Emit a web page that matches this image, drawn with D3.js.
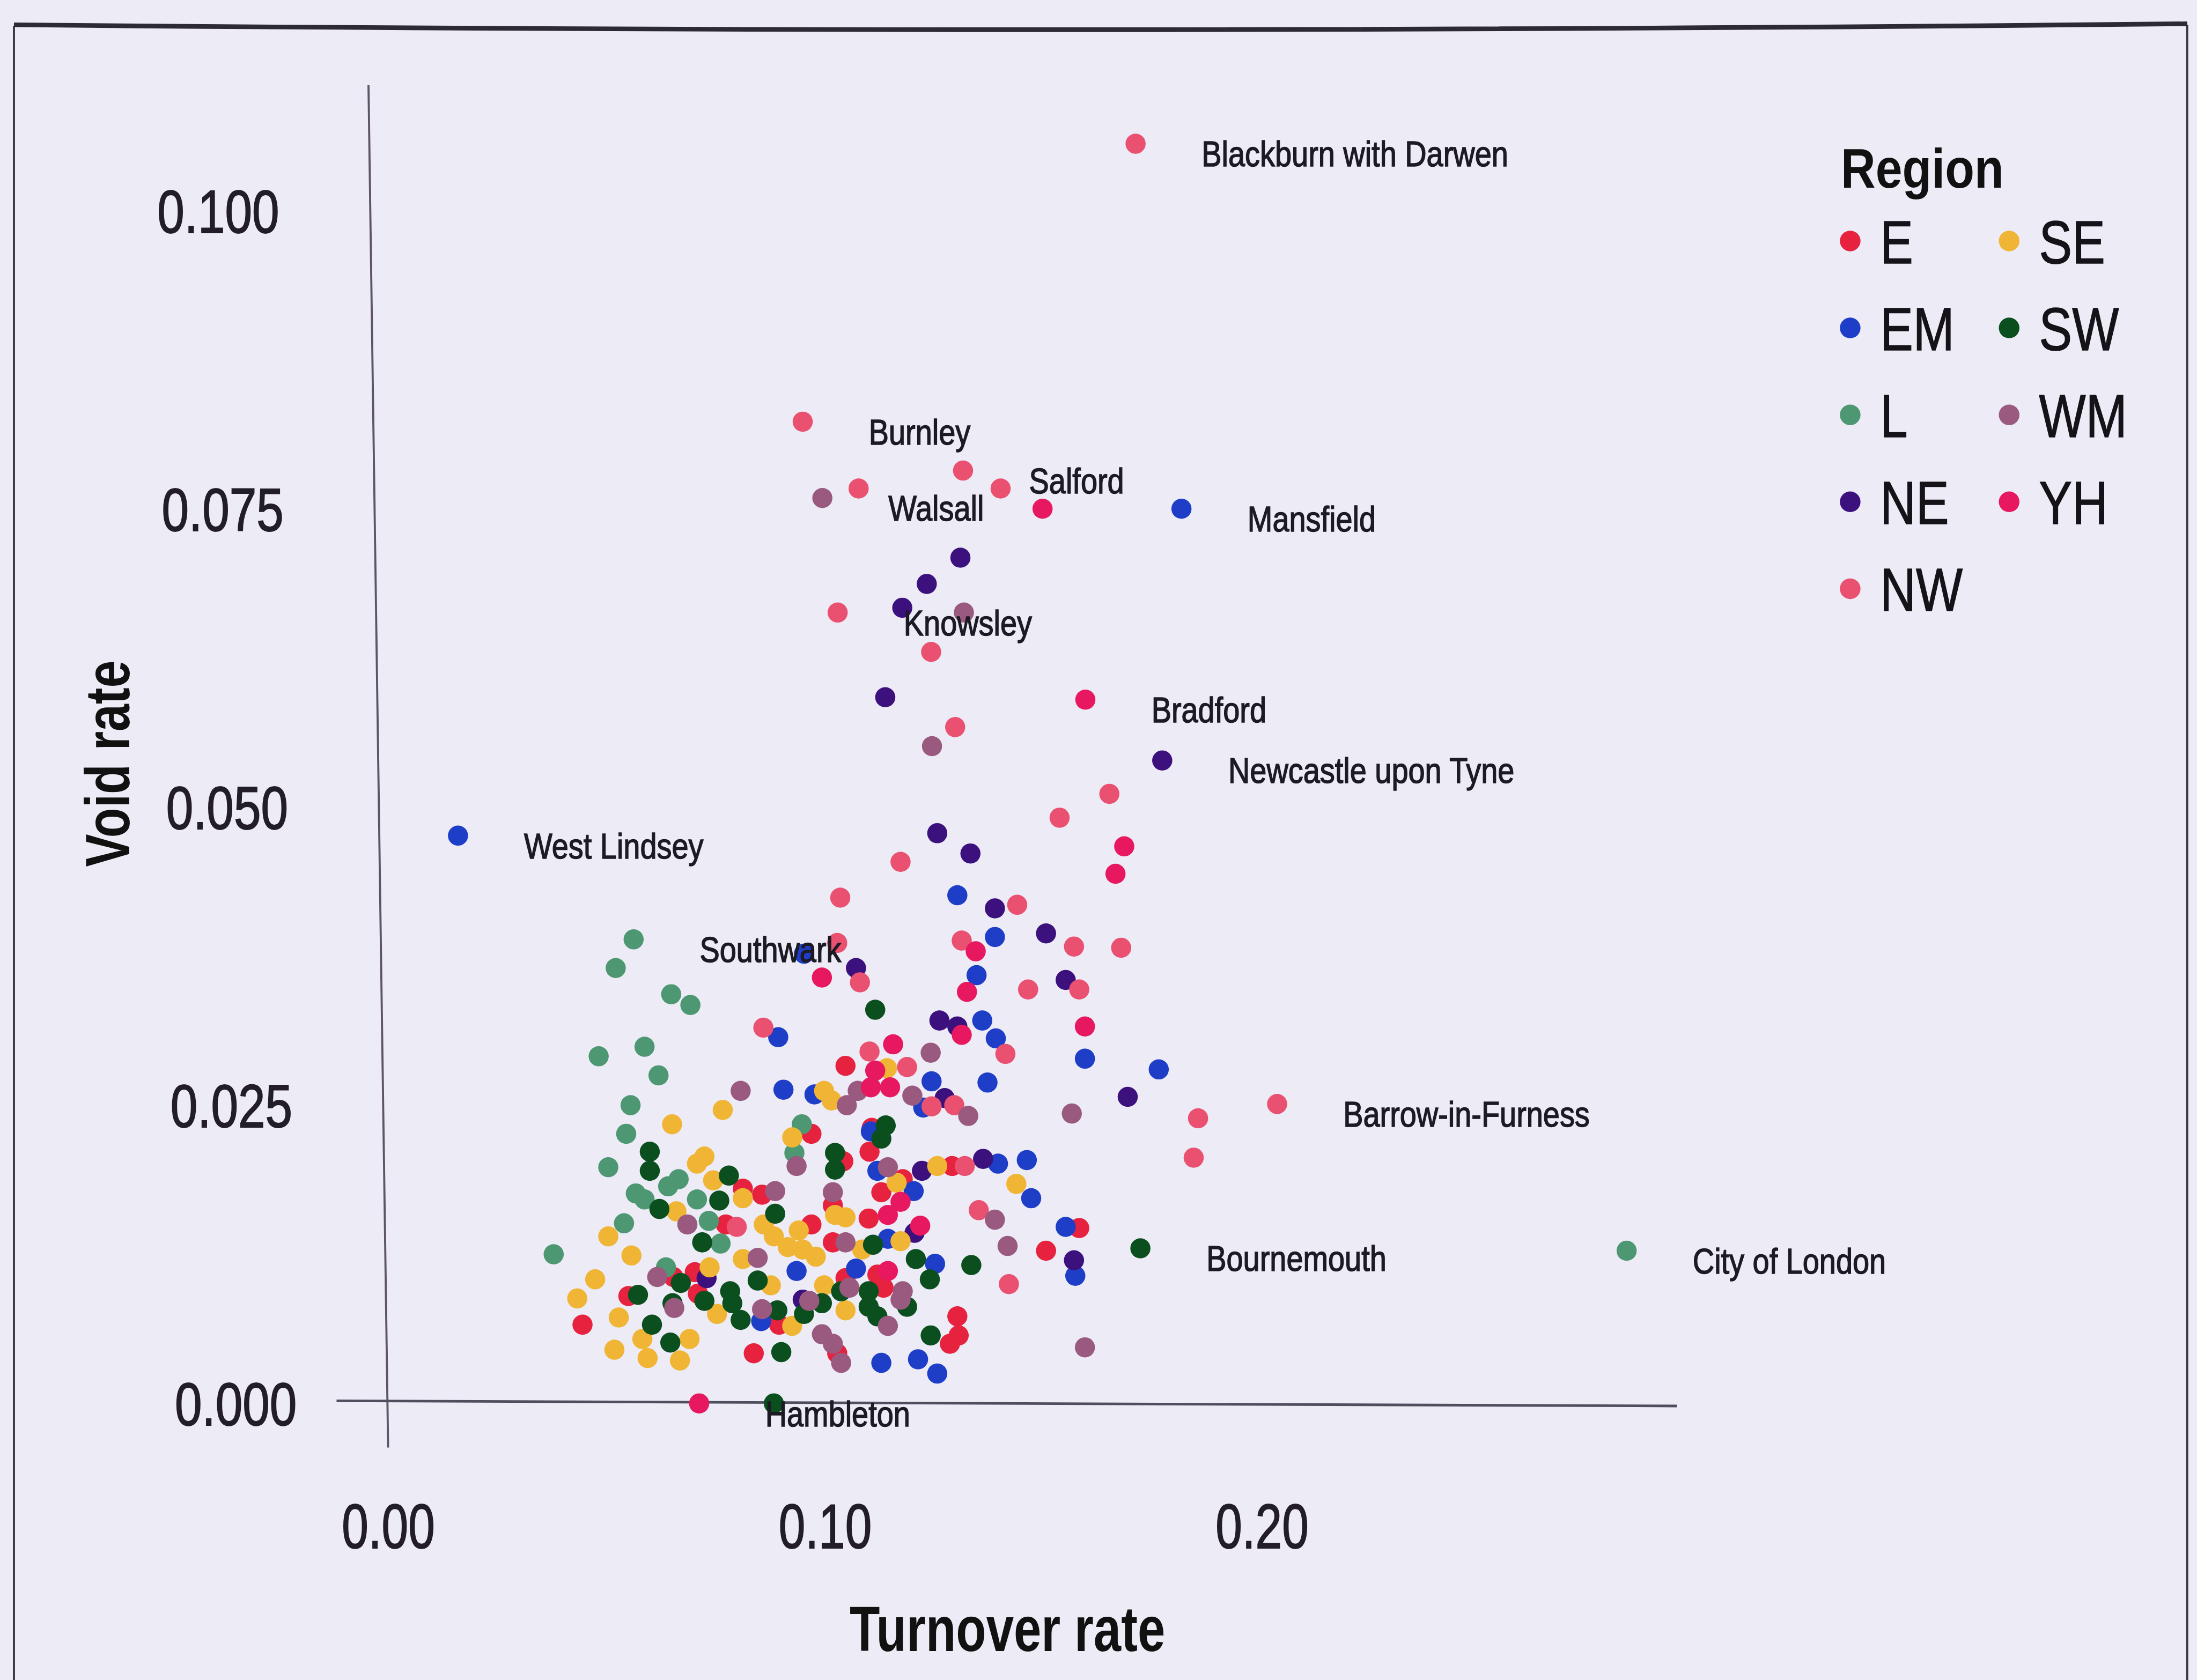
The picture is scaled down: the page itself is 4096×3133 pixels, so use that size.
<!DOCTYPE html>
<html><head><meta charset="utf-8">
<script src="https://cdn.jsdelivr.net/npm/d3@7"></script>
<style>html,body{margin:0;padding:0;background:#ecebf6;overflow:hidden}</style>
</head><body><div id="chart"></div>
<script>
// ---------- DATA ----------
const regions = ["E","EM","L","NE","NW","SE","SW","WM","YH"];
const regionColors = ["#e6223f","#1e3ec8","#4d9873","#3c117e","#ea5070","#f0b535","#0c4f1f","#9a5a80","#e7185f"];

// [turnover rate, void rate]
const E = [[0.1047,0.0283],[0.0969,0.0226],[0.1107,0.0231],[0.1102,0.0211],[0.1042,0.0203],[0.0812,0.0180],[0.0856,0.0175],[0.1018,0.0166],[0.0969,0.0150],[0.0773,0.0150],[0.1018,0.0135],[0.0653,0.0106],[0.0702,0.0110],[0.1047,0.0105],[0.0550,0.0090],[0.0709,0.0092],[0.0895,0.0066],[0.1028,0.0042],[0.0445,0.0066],[0.0837,0.0042],[0.1178,0.0188],[0.1291,0.0199],[0.1129,0.0177],[0.1100,0.0155],[0.1582,0.0147],[0.1506,0.0128],[0.1120,0.0108],[0.1134,0.0097],[0.1303,0.0073],[0.1306,0.0057],[0.1286,0.0050]];
const EM = [[0.1816,0.0750],[0.0160,0.0476],[0.0952,0.0377],[0.0893,0.0307],[0.0905,0.0263],[0.0976,0.0259],[0.1303,0.0426],[0.1389,0.0391],[0.1347,0.0359],[0.1360,0.0321],[0.1391,0.0306],[0.1595,0.0289],[0.1764,0.0280],[0.1244,0.0270],[0.1372,0.0269],[0.1225,0.0248],[0.1105,0.0228],[0.0935,0.0111],[0.0854,0.0069],[0.1120,0.0195],[0.1203,0.0178],[0.1396,0.0201],[0.1462,0.0204],[0.1472,0.0172],[0.1144,0.0138],[0.1551,0.0148],[0.1573,0.0107],[0.1252,0.0117],[0.1071,0.0113],[0.1129,0.0034],[0.1213,0.0037],[0.1257,0.0025]];
const L = [[0.2835,0.0128],[0.0562,0.0389],[0.0521,0.0365],[0.0648,0.0343],[0.0692,0.0334],[0.0587,0.0299],[0.0482,0.0291],[0.0619,0.0275],[0.0555,0.0250],[0.0545,0.0226],[0.0947,0.0234],[0.0930,0.0210],[0.0504,0.0198],[0.0641,0.0182],[0.0587,0.0171],[0.0707,0.0171],[0.0734,0.0153],[0.0540,0.0151],[0.0761,0.0134],[0.0379,0.0125],[0.0636,0.0114],[0.0567,0.0176],[0.0665,0.0188]];
const NE = [[0.1310,0.0709],[0.1233,0.0687],[0.1177,0.0667],[0.1138,0.0592],[0.1772,0.0539],[0.1257,0.0478],[0.1333,0.0461],[0.1389,0.0415],[0.1506,0.0394],[0.1071,0.0365],[0.1551,0.0355],[0.1262,0.0321],[0.1303,0.0316],[0.1693,0.0257],[0.1274,0.0256],[0.0729,0.0105],[0.0949,0.0087],[0.1222,0.0195],[0.1362,0.0205],[0.1205,0.0143],[0.1570,0.0120]];
const NW = [[0.1711,0.1056],[0.0949,0.0823],[0.1316,0.0782],[0.1077,0.0767],[0.1402,0.0767],[0.1029,0.0663],[0.1243,0.0630],[0.1298,0.0567],[0.1651,0.0511],[0.1537,0.0491],[0.1173,0.0454],[0.2035,0.0251],[0.1854,0.0239],[0.1844,0.0206],[0.1035,0.0424],[0.1028,0.0386],[0.0859,0.0315],[0.1440,0.0418],[0.1313,0.0388],[0.1570,0.0383],[0.1678,0.0382],[0.1080,0.0353],[0.1465,0.0347],[0.1582,0.0347],[0.1413,0.0293],[0.1102,0.0295],[0.1188,0.0282],[0.1244,0.0249],[0.1296,0.0250],[0.0798,0.0148],[0.1320,0.0199],[0.1352,0.0162],[0.1421,0.0100]];
const SE = [[0.0998,0.0262],[0.1015,0.0254],[0.0766,0.0246],[0.0650,0.0234],[0.0925,0.0223],[0.0724,0.0207],[0.0707,0.0201],[0.1142,0.0281],[0.0744,0.0187],[0.0812,0.0172],[0.0660,0.0161],[0.1023,0.0158],[0.1047,0.0156],[0.0504,0.0140],[0.0883,0.0140],[0.0915,0.0131],[0.0949,0.0129],[0.0979,0.0123],[0.0557,0.0124],[0.0736,0.0114],[0.0812,0.0121],[0.0876,0.0099],[0.0998,0.0099],[0.1047,0.0078],[0.0474,0.0104],[0.0433,0.0088],[0.0753,0.0075],[0.0925,0.0065],[0.0528,0.0072],[0.0582,0.0054],[0.0690,0.0054],[0.0518,0.0045],[0.0594,0.0038],[0.0668,0.0036],[0.1164,0.0185],[0.1257,0.0199],[0.1438,0.0184],[0.1173,0.0136],[0.1085,0.0129],[0.0860,0.0150],[0.0940,0.0145]];
const SW = [[0.1722,0.0130],[0.0883,0.0000],[0.0599,0.0211],[0.1023,0.0210],[0.1115,0.0330],[0.1139,0.0233],[0.1129,0.0222],[0.1023,0.0196],[0.0599,0.0195],[0.0780,0.0191],[0.0758,0.0170],[0.0621,0.0163],[0.0886,0.0159],[0.0719,0.0135],[0.0670,0.0101],[0.0846,0.0103],[0.0993,0.0084],[0.0952,0.0075],[0.1037,0.0094],[0.0572,0.0091],[0.0651,0.0084],[0.0724,0.0086],[0.0783,0.0094],[0.0788,0.0084],[0.0807,0.0070],[0.0891,0.0078],[0.0604,0.0066],[0.0646,0.0051],[0.0900,0.0043],[0.1110,0.0133],[0.1208,0.0121],[0.1240,0.0104],[0.1335,0.0116],[0.1100,0.0094],[0.1100,0.0081],[0.1188,0.0081],[0.1120,0.0073],[0.1242,0.0057]];
const WM = [[0.0994,0.0759],[0.1318,0.0663],[0.1245,0.0551],[0.0807,0.0262],[0.1050,0.0250],[0.1242,0.0294],[0.1075,0.0262],[0.1200,0.0258],[0.1328,0.0241],[0.1565,0.0243],[0.0935,0.0199],[0.0886,0.0178],[0.1018,0.0177],[0.0685,0.0150],[0.1047,0.0135],[0.0616,0.0106],[0.0846,0.0122],[0.0964,0.0086],[0.0655,0.0080],[0.0856,0.0079],[0.0993,0.0058],[0.1018,0.0050],[0.1037,0.0034],[0.1144,0.0198],[0.1389,0.0154],[0.1418,0.0132],[0.1056,0.0097],[0.1178,0.0094],[0.1173,0.0087],[0.1144,0.0065],[0.1595,0.0047]];
const YH = [[0.1498,0.0750],[0.1596,0.0590],[0.1685,0.0467],[0.1665,0.0444],[0.0993,0.0357],[0.1345,0.0379],[0.1325,0.0345],[0.1313,0.0309],[0.1595,0.0316],[0.1156,0.0301],[0.1115,0.0279],[0.1105,0.0265],[0.1149,0.0265],[0.0712,0.0000],[0.1173,0.0169],[0.1144,0.0158],[0.1218,0.0149],[0.1144,0.0111]];
const seriesByRegion = {E, EM, L, NE, NW, SE, SW, WM, YH};

const labelNames = ["Blackburn with Darwen","Burnley","Salford","Walsall","Mansfield","Knowsley","Bradford","Newcastle upon Tyne","West Lindsey","Southwark","Barrow-in-Furness","Bournemouth","City of London","Hambleton"];
const labelTurnover = [0.1711,0.0949,0.1316,0.0994,0.1816,0.1029,0.1596,0.1772,0.0160,0.0562,0.2035,0.1722,0.2835,0.0712];
const labelVoid = [0.1056,0.0823,0.0782,0.0759,0.0750,0.0663,0.0590,0.0539,0.0476,0.0389,0.0251,0.0130,0.0128,0.0000];

const xTicks = [0, 0.1, 0.2];
const xTickLabels = ["0.00","0.10","0.20"];
const yTicks = [0, 0.025, 0.05, 0.075, 0.1];
const yTickLabels = ["0.000","0.025","0.050","0.075","0.100"];
const xTitle = "Turnover rate", yTitle = "Void rate", legendTitle = "Region";

// ---------- LAYOUT (reference pixel space, scaled by viewBox) ----------
const W = 4257, H = 3256;
const FONT = "'Liberation Sans', Arial, Helvetica, sans-serif";
const TXT = "#221d26";
const svg = d3.select("#chart").append("svg")
  .attr("width", 4096).attr("height", 3133)
  .attr("viewBox", `0 0 ${W} ${H}`);

svg.append("rect").attr("width", W).attr("height", H).attr("fill", "#ecebf6");

// outer frame
svg.append("path").attr("d", `M27,${H+20} L27,50 M4238,48 L4238,${H+20}`)
  .attr("fill","none").attr("stroke","#3a3640").attr("stroke-width",4);
svg.append("path").attr("d", "M27,48 Q2130,68 4238,46")
  .attr("fill","none").attr("stroke","#2e2a34").attr("stroke-width",9);

const x = d3.scaleLinear().domain([0, 0.1]).range([752, 1598.5]);
const y = d3.scaleLinear().domain([0, 0.1]).range([2720, 408]);

// axis lines
svg.append("line")
  .attr("x1", x(0) - 38).attr("y1", y(0.1105))
  .attr("x2", x(0)).attr("y2", y(-0.0037))
  .attr("stroke", "#5e5464").attr("stroke-width", 4);
svg.append("line")
  .attr("x1", x(-0.0118)).attr("y1", y(0) - 5)
  .attr("x2", x(0.295)).attr("y2", y(0) + 5)
  .attr("stroke", "#4e4e5e").attr("stroke-width", 5);

// y axis tick labels
const yAxis = d3.axisLeft(y).tickValues(yTicks)
  .tickFormat((d, i) => yTickLabels[i]).tickSize(0).tickPadding(0);
svg.append("g").attr("transform", "translate(575,0)")
  .call(yAxis)
  .call(g => g.select(".domain").remove())
  .attr("font-size", 118).attr("font-family", FONT).attr("color", TXT)
  .call(g => g.selectAll("text")
    .attr("x", 0).attr("dy", 0).attr("fill", TXT)
    .attr("stroke", TXT).attr("stroke-width", 2)
    .attr("transform", d => `translate(${-(y(0) - y(d)) * 0.0147},42) scale(0.8,1)`));

// x axis tick labels
const xAxis = d3.axisBottom(x).tickValues(xTicks)
  .tickFormat((d, i) => xTickLabels[i]).tickSize(0).tickPadding(0);
svg.append("g").attr("transform", "translate(0,3000)")
  .call(xAxis)
  .call(g => g.select(".domain").remove())
  .attr("font-size", 122).attr("font-family", FONT).attr("color", TXT)
  .call(g => g.selectAll("text")
    .attr("y", 0).attr("dy", 0).attr("fill", TXT)
    .attr("stroke", TXT).attr("stroke-width", 2)
    .attr("transform", "scale(0.76,1)"));

// axis titles
svg.append("text").text(xTitle)
  .attr("transform", "translate(1952,3200) scale(0.78,1)")
  .attr("text-anchor", "middle").attr("font-family", FONT)
  .attr("font-weight", "bold").attr("font-size", 123).attr("fill", "#111");
svg.append("text").text(yTitle)
  .attr("transform", "translate(250,1480) rotate(-90) scale(0.78,1)")
  .attr("text-anchor", "middle").attr("font-family", FONT)
  .attr("font-weight", "bold").attr("font-size", 122).attr("fill", "#111");

// points
const color = d3.scaleOrdinal().domain(regions).range(regionColors);
const pts = svg.append("g");
regions.forEach(r => {
  pts.append("g").selectAll("circle").data(seriesByRegion[r]).join("circle")
    .attr("cx", d => x(d[0])).attr("cy", d => y(d[1]))
    .attr("r", 19.5).attr("fill", color(r));
});

// point labels
const labelData = labelNames.map((n, i) => ({name: n, tx: labelTurnover[i], vr: labelVoid[i]}));
svg.append("g").selectAll("text").data(labelData).join("text")
  .attr("transform", d => `translate(${x(d.tx) + 128},${y(d.vr) + 44}) scale(0.83,1)`)
  .attr("font-family", FONT).attr("font-size", 70).attr("fill", "#1c1a22")
  .attr("stroke", "#1c1a22").attr("stroke-width", 1.6)
  .text(d => d.name);

// legend
const leg = svg.append("g");
leg.append("text").text(legendTitle)
  .attr("transform", "translate(3567,364) scale(0.87,1)")
  .attr("font-family", FONT).attr("font-weight", "bold")
  .attr("font-size", 107).attr("fill", "#111");
const colX = [3585, 3893], rowY0 = 467, rowStep = 168.5;
const items = leg.selectAll("g.item").data(regions).join("g")
  .attr("class", "item")
  .attr("transform", (d, i) => `translate(${colX[i < 5 ? 0 : 1]},${rowY0 + (i < 5 ? i : i - 5) * rowStep})`);
items.append("circle").attr("r", 20).attr("fill", d => color(d));
items.append("text").text(d => d)
  .attr("transform", "translate(58,43) scale(0.82,1)")
  .attr("font-family", FONT).attr("font-size", 117).attr("fill", "#151218")
  .attr("stroke", "#151218").attr("stroke-width", 1.5);
</script></body></html>
